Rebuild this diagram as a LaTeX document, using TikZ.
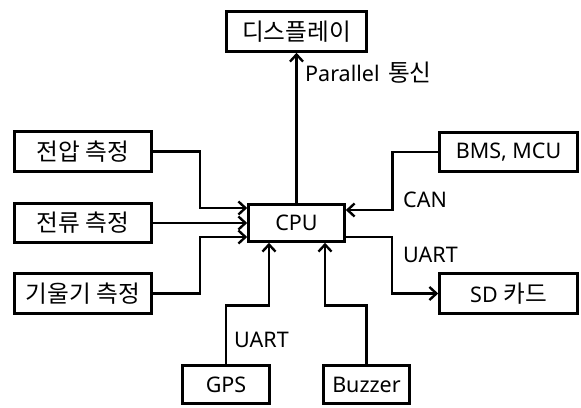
\documentclass[tikz,border=0pt]{standalone}
\usepackage{fontspec}
\setmainfont{Noto Sans}
\newfontfamily\kr[Scale=1.1]{Noto Sans CJK KR}
\usetikzlibrary{arrows.meta}
\begin{document}
\begin{tikzpicture}[x=1pt,y=-1pt,
  box/.style={draw=black,line width=2.6pt,inner sep=0pt,fill=white,font=\fontsize{21.5}{26}\selectfont},
  link/.style={line width=2.6pt,-{Straight Barb[length=7pt,width=13pt,line width=2.4pt]}},
  lbl/.style={inner sep=0pt,anchor=west,font=\fontsize{21.5}{26}\selectfont}]
\useasboundingbox (0,0) rectangle (581,407);
\node[box,minimum width=140pt,minimum height=40pt] (disp) at (296.5,31.5) {\kr 디스플레이};
\node[box,minimum width=137pt,minimum height=40pt] (volt) at (83,151.5) {\kr 전압 측정};
\node[box,minimum width=137pt,minimum height=39pt] (curr) at (83,223) {\kr 전류 측정};
\node[box,minimum width=137pt,minimum height=40pt] (tilt) at (83,293.5) {\kr 기울기 측정};
\node[box,minimum width=96pt,minimum height=37pt] (cpu) at (296.5,223) {CPU};
\node[box,minimum width=138pt,minimum height=39pt] (bms) at (508.5,152) {BMS,\ MCU};
\node[box,minimum width=138pt,minimum height=40pt] (sd) at (508.5,293.5) {SD\ {\kr 카드}};
\node[box,minimum width=87pt,minimum height=38pt] (gps) at (226,384.5) {GPS};
\node[box,minimum width=86pt,minimum height=38pt] (buzz) at (366.5,384.5) {Buzzer};
\draw[link] (cpu.north) -- (disp.south);
\draw[link] (volt.east) -- ++(47,0) |- ([yshift=15pt]cpu.west);
\draw[link] (curr.east) -- (cpu.west);
\draw[link] (tilt.east) -- ++(47,0) |- ([yshift=-14pt]cpu.west);
\draw[link] (bms.west) -- ++(-46,0) |- ([yshift=13pt]cpu.east);
\draw[link] ([yshift=-14pt]cpu.east) -- ++(46,0) |- (sd.west);
\draw[link] (gps.north) -- ++(0,-59) -| ([xshift=-27.5pt]cpu.south);
\draw[link] (buzz.north) -- ++(0,-59) -| ([xshift=28.5pt]cpu.south);
\node[lbl] (lpar) at (305,73) {Parallel\hspace{0.4em}{\kr 통신}};
\node[lbl] (lcan) at (403,200) {CAN};
\node[lbl] (luart1) at (403,255) {UART};
\node[lbl] (luart2) at (234,340) {UART};
\end{tikzpicture}
\end{document}
